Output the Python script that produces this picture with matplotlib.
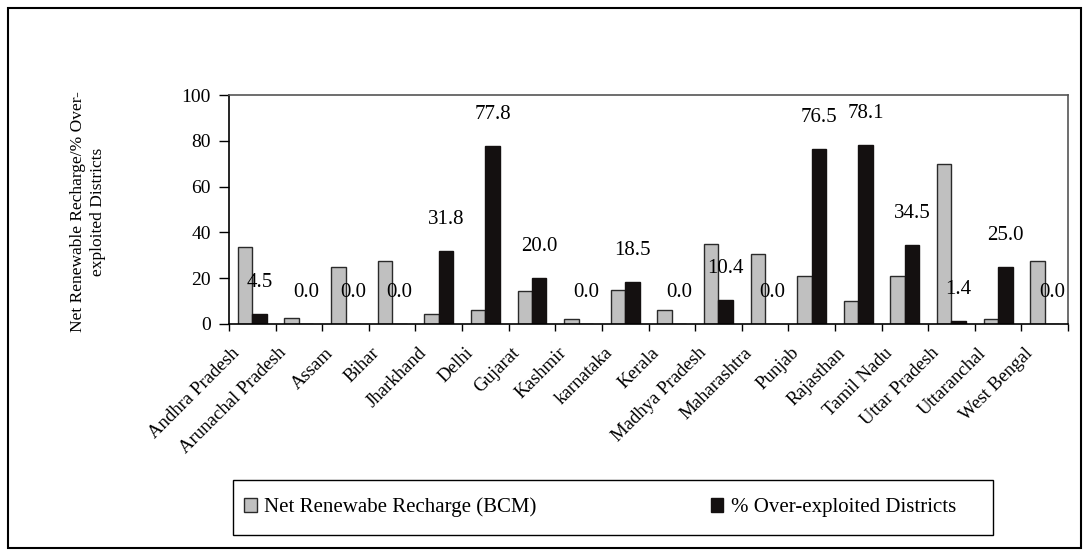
import matplotlib
matplotlib.use("Agg")
import matplotlib.pyplot as plt
import matplotlib.transforms as mtransforms
import numpy as np
from matplotlib.patches import Rectangle

states = ["Andhra Pradesh", "Arunachal Pradesh", "Assam", "Bihar", "Jharkhand", "Delhi",
          "Gujarat", "Kashmir", "karnataka", "Kerala", "Madhya Pradesh", "Maharashtra",
          "Punjab", "Rajasthan", "Tamil Nadu", "Uttar Pradesh", "Uttaranchal", "West Bengal"]
recharge = [33.5, 2.5, 25.0, 27.5, 4.5, 6.0, 14.5, 2.0, 15.0, 6.0, 35.0, 30.5,
            21.0, 10.0, 21.0, 70.0, 2.0, 27.5]
overexploited = [4.5, 0.0, 0.0, 0.0, 31.8, 77.8, 20.0, 0.0, 18.5, 0.0, 10.4, 0.0,
                 76.5, 78.1, 34.5, 1.4, 25.0, 0.0]
yticks = [0, 20, 40, 60, 80, 100]

SERIF = ['Liberation Serif', 'DejaVu Serif']
plt.rcParams['font.family'] = SERIF
plt.rcParams['font.serif'] = SERIF
FS = 15
FS_T = 13.5

W, H = 1089, 552
fig = plt.figure(figsize=(W / 100, H / 100), dpi=100)
ax = fig.add_axes([229 / W, 1 - 324 / H, (1068 - 229) / W, (324 - 95) / H])

n = len(states)
x = np.arange(n) + 0.5
bw = 0.31
ax.bar(x - bw / 2, recharge, bw, color='#C0C0C0', edgecolor='#2a2a2a', linewidth=1.0,
       label='Net Renewabe Recharge (BCM)')
ax.bar(x + bw / 2, overexploited, bw, color='#141010', edgecolor='#141010', linewidth=1.0,
       label='% Over-exploited Districts')
for xi, v in zip(x + bw / 2, overexploited):
    ax.annotate(f"{v:.1f}", (xi, v), xytext=(0, 22.5), textcoords='offset points',
                ha='center', va='center', fontsize=FS, family=SERIF)

ax.set_xlim(0, n)
ax.set_ylim(0, 100)
ax.set_yticks(yticks)
ax.tick_params(axis='y', direction='out', length=7, width=1, labelsize=14, pad=6)
ax.set_xticks(np.arange(n + 1), minor=True)
ax.set_xticks(x)
ax.set_xticklabels(states, rotation=45, ha='right', va='center', rotation_mode='anchor',
                   fontsize=FS_T, family=SERIF)
ax.tick_params(axis='x', which='major', length=0, pad=19)
ax.tick_params(axis='x', which='minor', direction='out', length=5, width=1)
shift = mtransforms.ScaledTranslation(-15 / 100, 0, fig.dpi_scale_trans)
for lbl in ax.get_xticklabels():
    lbl.set_transform(lbl.get_transform() + shift)

for s in ['left', 'bottom']:
    ax.spines[s].set_color('black')
    ax.spines[s].set_linewidth(1.2)
for s in ['top', 'right']:
    ax.spines[s].set_color('#555555')
    ax.spines[s].set_linewidth(1.2)

fig.text(88 / W, 1 - 212 / H, "Net Renewable Recharge/% Over-\nexploited Districts",
         rotation=90, ha='center', va='center', fontsize=12.5, linespacing=1.35,
         multialignment='center', family=SERIF)

leg = fig.legend(handles=[ax.containers[0], ax.containers[1]],
                 labels=['Net Renewabe Recharge (BCM)', '% Over-exploited Districts'],
                 loc='center left', bbox_to_anchor=(244 / W, 1 - 535 / H, (956 - 244) / W, 55 / H),
                 ncol=2, mode='expand', prop={'family': SERIF, 'size': FS}, frameon=False,
                 handlelength=0.6, handleheight=0.6, handletextpad=0.35,
                 borderaxespad=0, borderpad=0)
for t in leg.get_texts():
    t.set_fontfamily(SERIF)

fig.patches.append(Rectangle((233 / W, 1 - 535 / H), (993 - 233) / W, 55 / H,
                             transform=fig.transFigure, fill=False, edgecolor='black', linewidth=1.0))
fig.patches.append(Rectangle((8 / W, 4 / H), (1081 - 8) / W, (548 - 8) / H,
                             transform=fig.transFigure, fill=False, edgecolor='black', linewidth=1.5))

fig.savefig("out.png", dpi=100)
